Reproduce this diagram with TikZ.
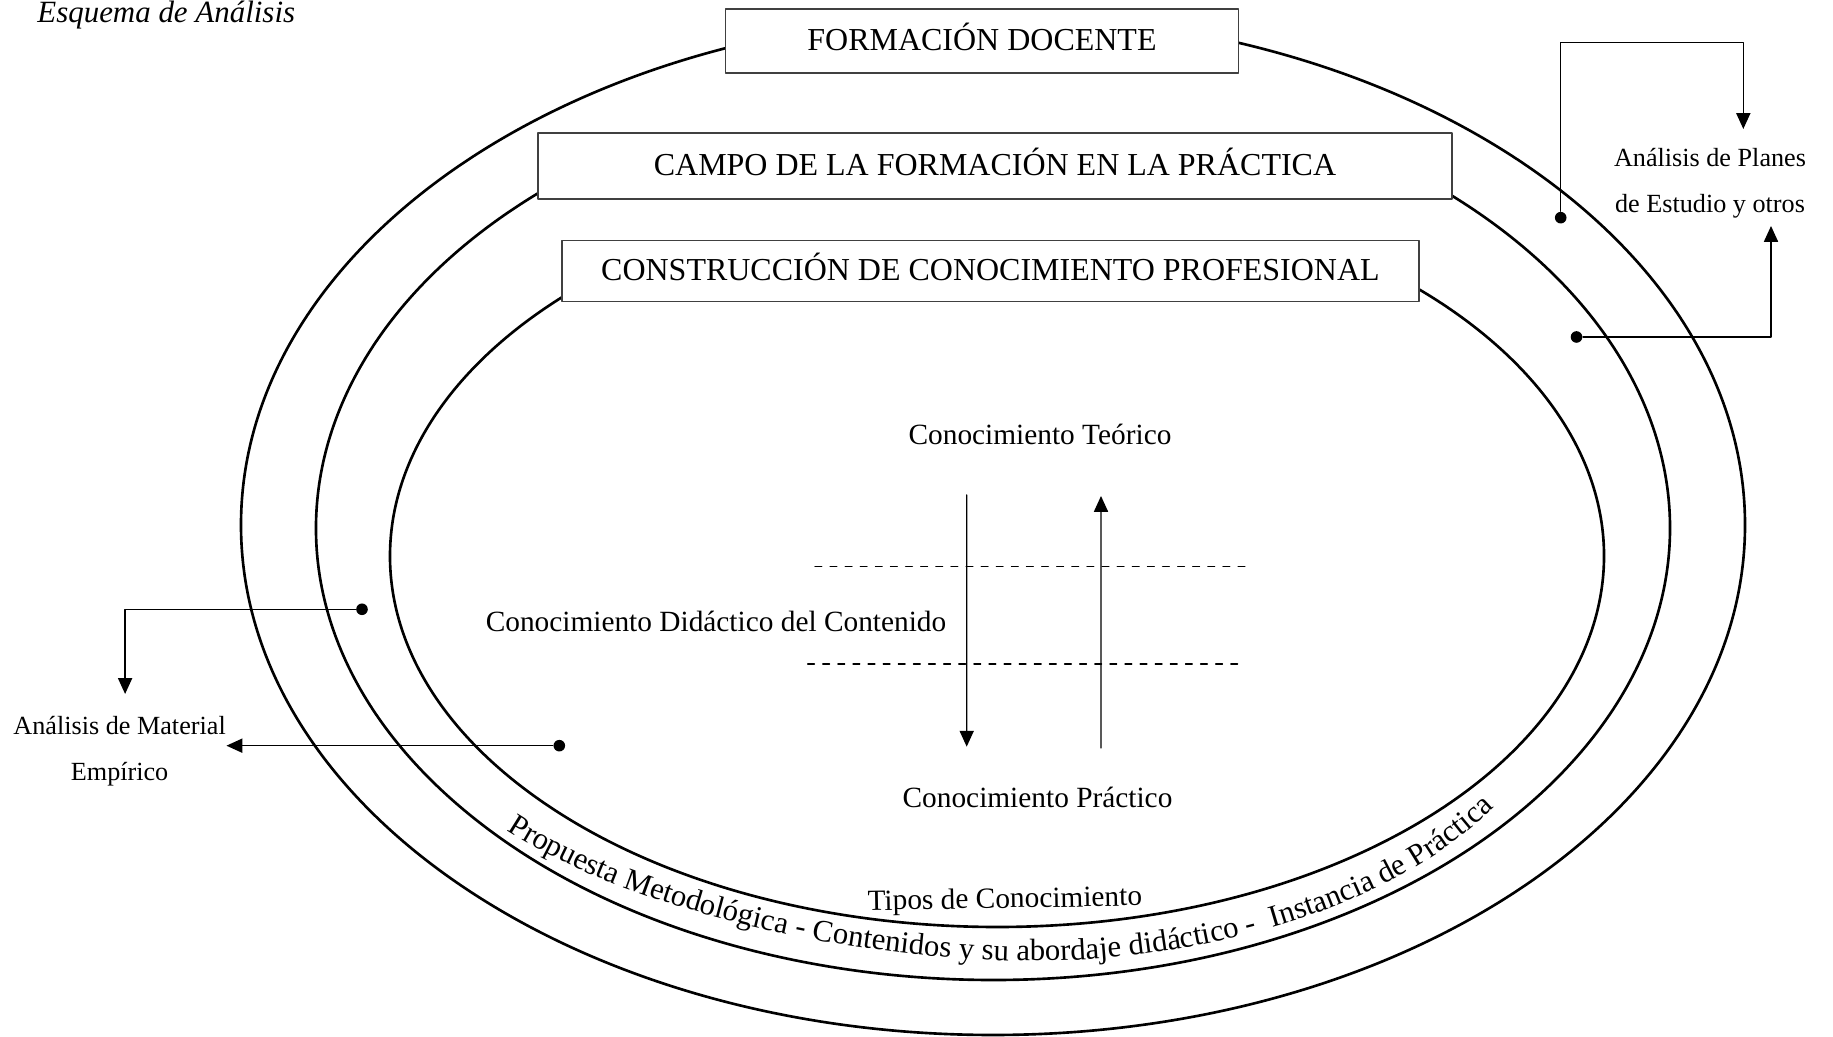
\documentclass[tikz,border=0pt]{standalone}
\usepackage{fontspec}
\setmainfont{Liberation Serif}
\usetikzlibrary{arrows.meta}
\usetikzlibrary{decorations.text}

\begin{document}
\begin{tikzpicture}[line cap=round, line join=round, >={Triangle[length=4.5pt,width=4pt]},
	ring/.style={line width=0.75pt},
	box/.style={draw=black!75, line width=0.5pt, fill=white, inner sep=0pt, text height=0.22cm, text depth=0.02cm, font=\fontsize{9.1}{11}\selectfont},
	lbl/.style={inner sep=0pt, anchor=base, font=\fontsize{8.35}{10}\selectfont},
	side/.style={inner sep=0pt, anchor=base, font=\fontsize{7.45}{9}\selectfont},
	dot/.style={circle, fill, inner sep=0pt, minimum size=3.3pt},
	link/.style={->, line width=0.4pt},
	cut/.style={dash pattern=on 1.9pt off 2.4pt, line width=0.4pt}]

\useasboundingbox (0,0) rectangle (18.33,10.37);

\node[anchor=base west, inner sep=0pt, font=\itshape\fontsize{8.8}{10}\selectfont] (titulo) at (0.367,10.14) {Esquema de Análisis};

% the three rings (the two inner ones stop under their boxes)
\draw[ring] (9.93,5.12) ellipse (7.52 and 5.10);
\draw[ring] (9.93,5.09) ++(128:6.77 and 4.52) arc[start angle=128, end angle=412, x radius=6.77, y radius=4.52];
\draw[ring] (9.97,4.81) ++(131:6.07 and 3.71) arc[start angle=131, end angle=411, x radius=6.07, y radius=3.71];


\node[box, minimum width=5.13cm, minimum height=0.64cm] (docente) at (9.82,9.96) {FORMACIÓN DOCENTE};
\node[box, minimum width=9.14cm, minimum height=0.66cm] (campo) at (9.95,8.71) {CAMPO DE LA FORMACIÓN EN LA PRÁCTICA};
\node[box, minimum width=8.57cm, minimum height=0.61cm] (construccion) at (9.905,7.66) {CONSTRUCCIÓN DE CONOCIMIENTO PROFESIONAL};


%---------------------------------------------------------------------------------------------------
% inside
\node[lbl] (teorico) at (10.40,5.92) {Conocimiento Teórico};
\node[lbl] (didactico) at (7.16,4.05) {Conocimiento Didáctico del Contenido};
\node[lbl] (practico) at (10.375,2.29) {Conocimiento Práctico};
\node[lbl, rotate=1] (tipos) at (10.05,1.29) {Tipos de Conocimiento};

\draw[cut] (8.15,4.703) -- (12.50,4.703);
\draw[cut] (8.077,3.73) -- (12.43,3.73);

\draw[link] ([shift={(-0.733,-0.50)}]teorico.base) -- ([shift={(-0.708,0.613)}]practico.base);
\draw[link] ([shift={(0.635,0.60)}]practico.base) -- ([shift={(0.61,-0.51)}]teorico.base);

\path[decorate, decoration={text along path, text={|\fontsize{8.75}{10}\selectfont|Propuesta Metodológica - Contenidos y su abordaje didáctico -{\ } Instancia de Práctica}}]
	(5.07,2.07) .. controls (6.33,1.25) and (8.57,0.76) .. (10.37,0.76)
	.. controls (11.87,0.76) and (13.78,1.20) .. (14.88,2.24) -- ++(0.37,0.345);


%---------------------------------------------------------------------------------------------------
% outside
\node[side] (planesA) at (17.10,8.70) {Análisis de Planes};
\node[side] (planesB) at (17.10,8.24) {de Estudio y otros};
\node[side] (materialA) at (1.196,3.02) {Análisis de Material};
\node[side] (materialB) at (1.196,2.56) {Empírico};

\node[dot] (d1) at (15.607,8.193) {};
\node[dot] (d2) at (15.765,7.00) {};
\node[dot] (d3) at (3.62,4.277) {};
\node[dot] (d4) at (5.593,2.913) {};

\draw[link] (d1) |- ([shift={(0.333,1.247)}]planesA.base) -- ([shift={(0.333,0.38)}]planesA.base);
\draw[link] (d2) -| ([shift={(0.61,-0.13)}]planesB.base);
\draw[link] (d3) -| ([shift={(0.055,0.41)}]materialA.base);
\draw[link] (d4) -- (d4 -| materialA.east);

\end{tikzpicture}
\end{document}
